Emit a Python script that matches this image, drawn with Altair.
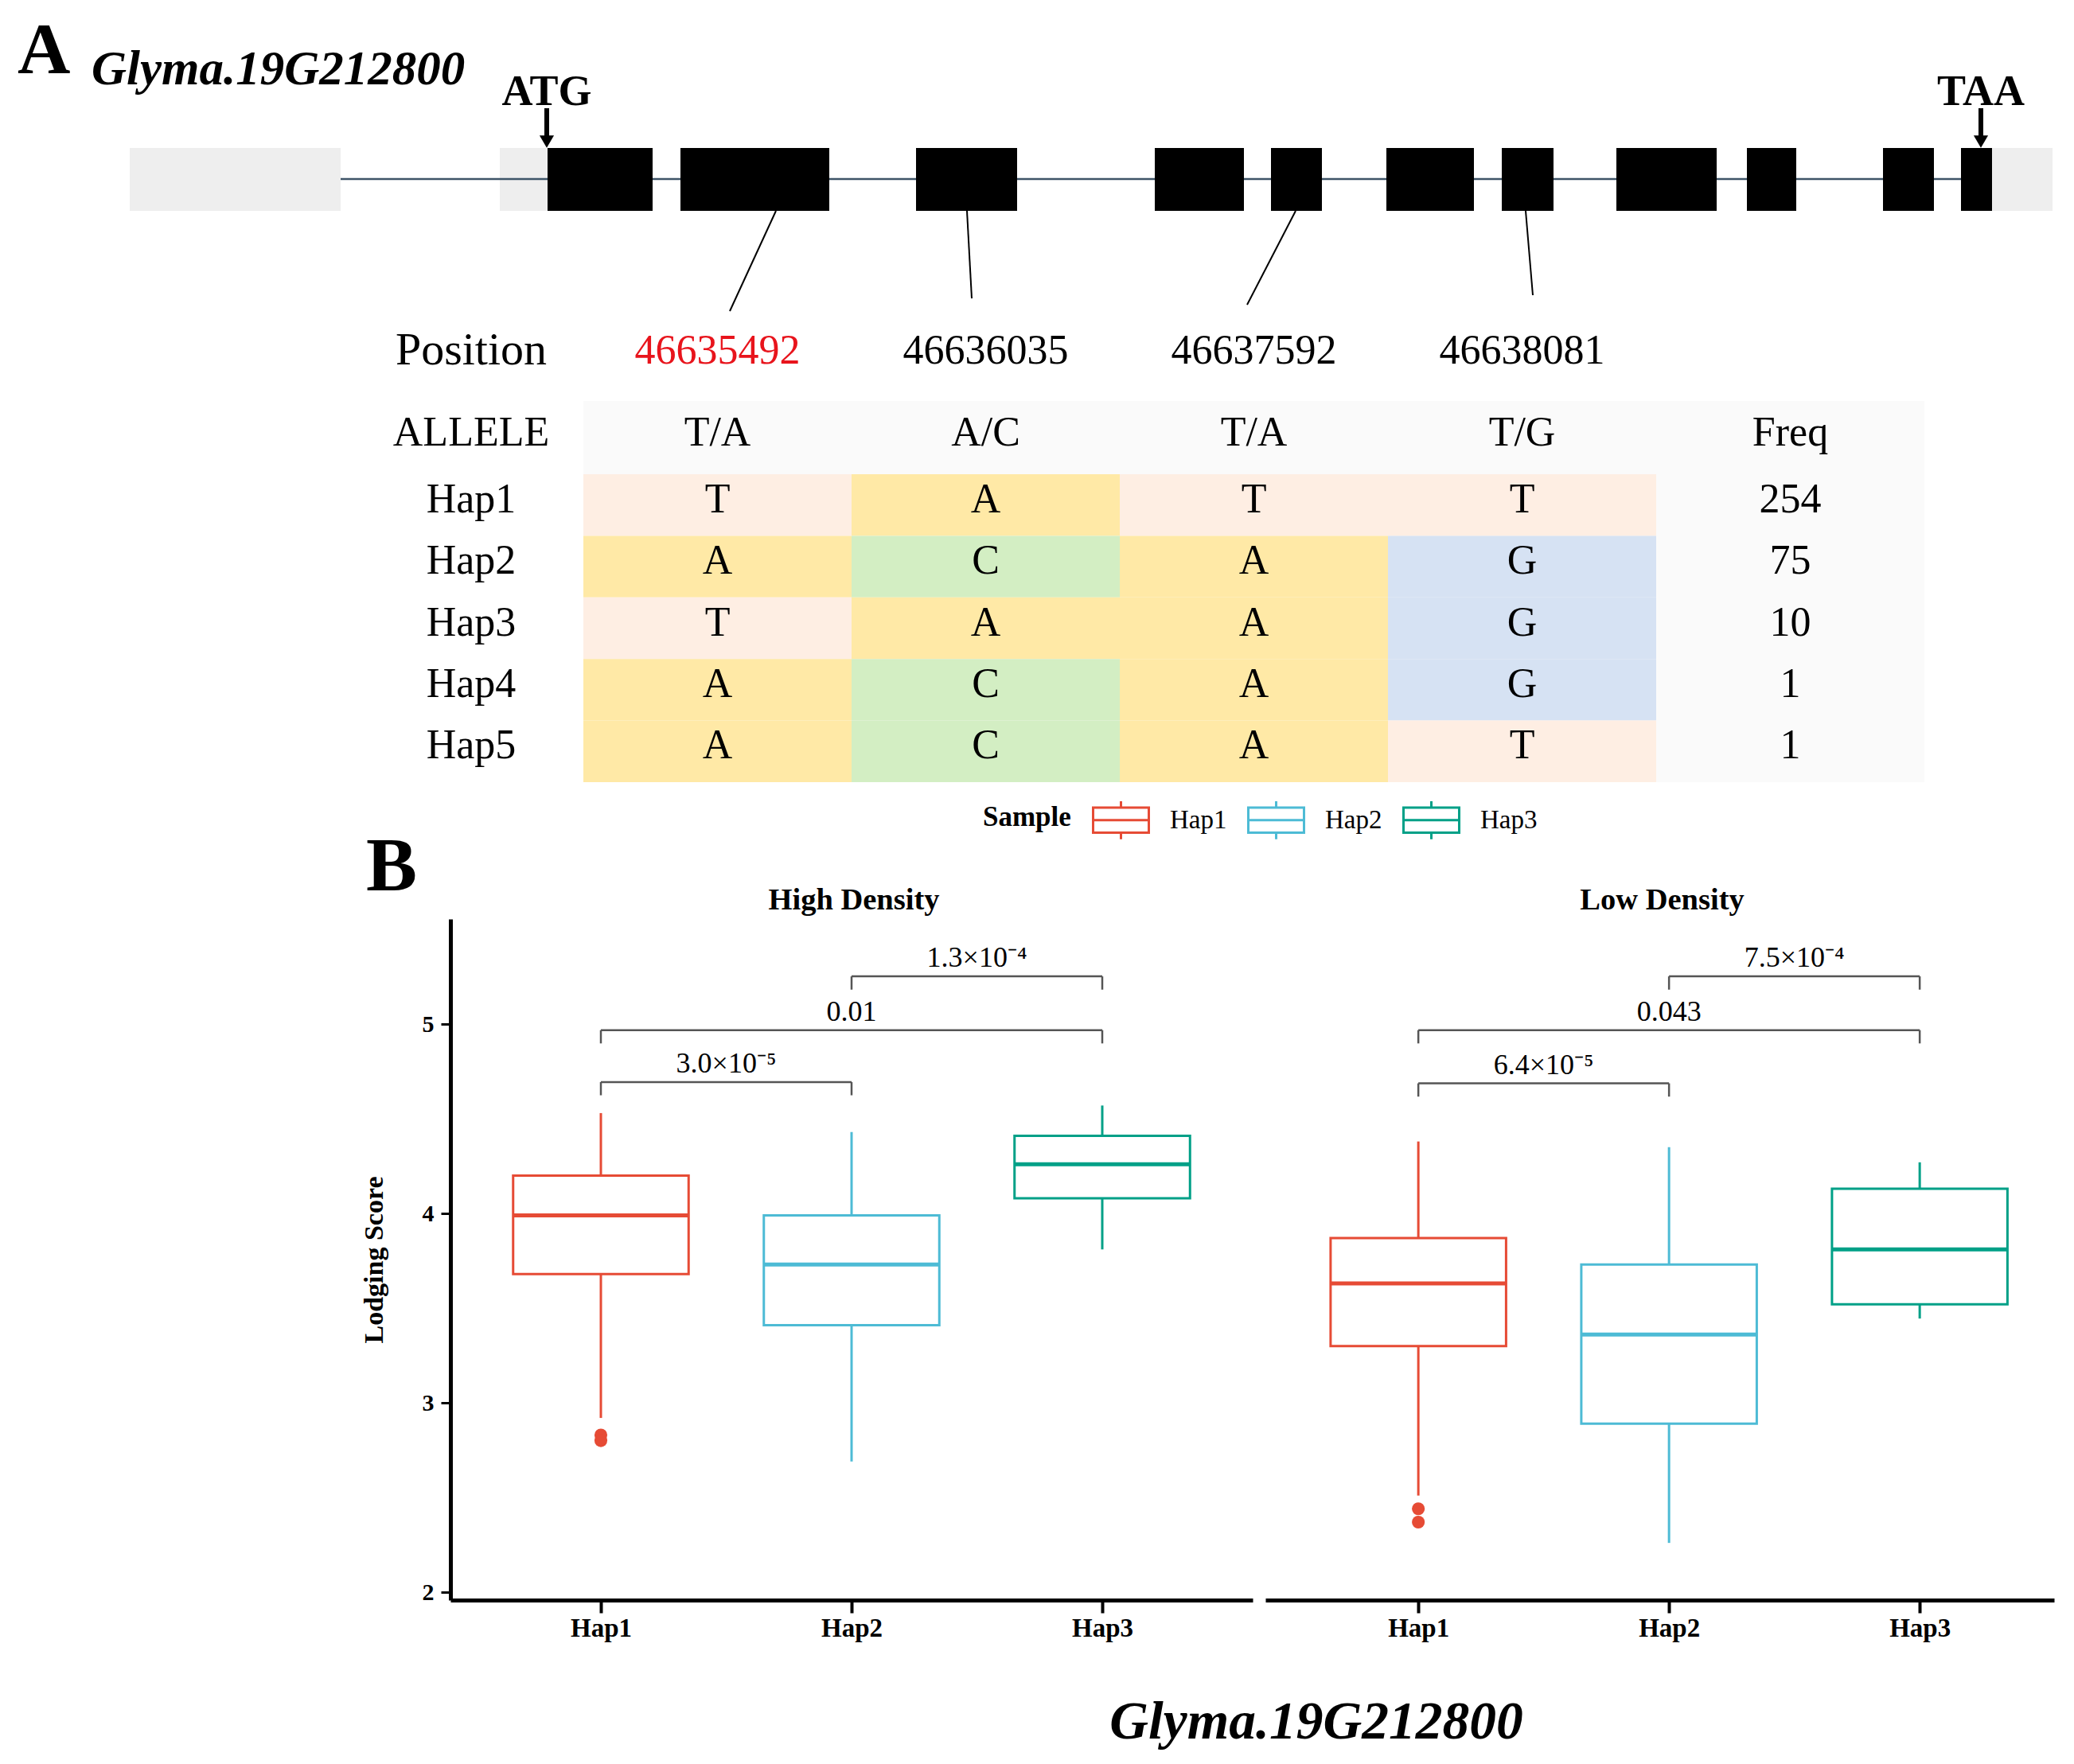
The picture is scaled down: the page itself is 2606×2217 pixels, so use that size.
import json
import altair as alt
import pandas as pd

SERIF = "Liberation Serif"

# ---------------- Panel A data ----------------
GENE_NAME = "Glyma.19G212800"
UTR_START = [155, 620, 2495]
UTR_END = [420, 680, 2571]
EXON_START = [680, 847, 1143, 1443, 1589, 1734, 1879, 2023, 2187, 2358, 2456]
EXON_END = [812, 1034, 1270, 1555, 1653, 1844, 1944, 2149, 2249, 2422, 2495]
CODON_LABEL = ["ATG", "TAA"]
CODON_SITE = [679, 2481]
SNP_SITE = [967, 1207, 1620, 1909]
SNP_POSITION = ["46635492", "46636035", "46637592", "46638081"]
SNP_ALLELE = ["T/A", "A/C", "T/A", "T/G"]
HAP_TABLE = ["Hap1", "Hap2", "Hap3", "Hap4", "Hap5"]
HAP_BASES = [["T", "A", "T", "T"],
             ["A", "C", "A", "G"],
             ["T", "A", "A", "G"],
             ["A", "C", "A", "G"],
             ["A", "C", "A", "T"]]
HAP_FREQ = [254, 75, 10, 1, 1]
BASE_COLOR = {"T": "#FEEEE3", "A": "#FFE9A6", "C": "#D3EEC3", "G": "#D6E2F3"}

# ---------------- Panel B data ----------------
GROUPS = ["Hap1", "Hap2", "Hap3"]
GROUP_COLOR = ["#E64B35", "#4DBBD5", "#00A087"]

HD_LOWER = [2.92, 2.69, 3.81]
HD_Q1 = [3.68, 3.41, 4.08]
HD_MEDIAN = [3.99, 3.73, 4.26]
HD_Q3 = [4.20, 3.99, 4.41]
HD_UPPER = [4.53, 4.43, 4.57]
HD_OUT_GROUP = ["Hap1", "Hap1"]
HD_OUT_VALUE = [2.83, 2.80]
HD_CMP_A = [1, 1, 2]
HD_CMP_B = [2, 3, 3]
HD_CMP_H = [4.694, 4.968, 5.252]
HD_CMP_P = ["3.0×10⁻⁵", "0.01", "1.3×10⁻⁴"]

LD_LOWER = [2.51, 2.26, 3.445]
LD_Q1 = [3.30, 2.89, 3.52]
LD_MEDIAN = [3.63, 3.36, 3.81]
LD_Q3 = [3.87, 3.73, 4.13]
LD_UPPER = [4.38, 4.35, 4.27]
LD_OUT_GROUP = ["Hap1", "Hap1"]
LD_OUT_VALUE = [2.44, 2.37]
LD_CMP_A = [1, 1, 2]
LD_CMP_B = [2, 3, 3]
LD_CMP_H = [4.687, 4.968, 5.252]
LD_CMP_P = ["6.4×10⁻⁵", "0.043", "7.5×10⁻⁴"]

# ---------------- layout ----------------
W_A, H_A = 2583, 990
TRACK_TOP, TRACK_BOTTOM, TRACK_MID = 178, 257, 217
CONNECT_END_X = [909, 1213, 1559, 1918]
CONNECT_END_Y = [383, 367, 375, 363]
LABEL_X = 584
POS_Y = 433
TABLE_X0, COL_W = 725, 337.0
HEADER_TOP, HEADER_H, ROW_H = 496, 92, 77.4
COL_CENTER = [TABLE_X0 + (i + 0.5) * COL_W for i in range(5)]

xA = alt.Scale(domain=[0, W_A], nice=False, zero=False)
yA = alt.Scale(domain=[0, H_A], nice=False, zero=False, reverse=True)


def XA(f):
    return alt.X(f, type="quantitative", scale=xA, axis=None)


def YA(f):
    return alt.Y(f, type="quantitative", scale=yA, axis=None)


utr_df = pd.DataFrame({"x0": UTR_START, "x1": UTR_END, "y0": TRACK_TOP, "y1": TRACK_BOTTOM})
exon_df = pd.DataFrame({"x0": EXON_START, "x1": EXON_END, "y0": TRACK_TOP, "y1": TRACK_BOTTOM})
intron_df = pd.DataFrame({"x0": [UTR_END[0]], "x1": [UTR_START[-1]], "y": [TRACK_MID]})
codon_df = pd.DataFrame({"label": CODON_LABEL, "x": CODON_SITE, "ty": 124, "a0": 128, "a1": 163, "ah": 170})
conn_df = pd.DataFrame({"x0": SNP_SITE, "y0": TRACK_BOTTOM, "x1": CONNECT_END_X, "y1": CONNECT_END_Y})
pos_df = pd.DataFrame({"label": SNP_POSITION, "x": COL_CENTER[:4], "y": POS_Y,
                       "color": ["#E8141C" if i == 0 else "black" for i in range(len(SNP_POSITION))]})
title_df = pd.DataFrame({"t": ["A"], "x": [14], "y": [84]})
gname_df = pd.DataFrame({"t": [GENE_NAME], "x": [107], "y": [98]})
poslab_df = pd.DataFrame({"t": ["Position"], "x": [LABEL_X], "y": [POS_Y]})

n_rows = len(HAP_TABLE)
bg_df = pd.DataFrame({"x0": [TABLE_X0], "x1": [TABLE_X0 + 5 * COL_W],
                      "y0": [HEADER_TOP], "y1": [HEADER_TOP + HEADER_H + n_rows * ROW_H]})
cells = []
texts = []
hy = HEADER_TOP + HEADER_H / 2 - 6
texts.append({"t": "ALLELE", "x": LABEL_X, "y": hy})
for c, a in enumerate(SNP_ALLELE):
    texts.append({"t": a, "x": COL_CENTER[c], "y": hy})
texts.append({"t": "Freq", "x": COL_CENTER[4], "y": hy})
for r, hap in enumerate(HAP_TABLE):
    y0 = HEADER_TOP + HEADER_H + r * ROW_H
    yc = y0 + ROW_H / 2 - 7
    texts.append({"t": hap, "x": LABEL_X, "y": yc})
    for c, b in enumerate(HAP_BASES[r]):
        cells.append({"x0": TABLE_X0 + c * COL_W, "x1": TABLE_X0 + (c + 1) * COL_W,
                      "y0": y0, "y1": y0 + ROW_H, "color": BASE_COLOR[b]})
        texts.append({"t": b, "x": COL_CENTER[c], "y": yc})
    texts.append({"t": str(HAP_FREQ[r]), "x": COL_CENTER[4], "y": yc})
cell_df = pd.DataFrame(cells)
text_df = pd.DataFrame(texts)

layersA = [
    alt.Chart(utr_df).mark_rect(color="#EEEEEE").encode(x=XA("x0"), x2="x1", y=YA("y0"), y2="y1"),
    alt.Chart(intron_df).mark_rule(color="#3E5468", strokeWidth=2.5).encode(x=XA("x0"), x2="x1", y=YA("y")),
    alt.Chart(exon_df).mark_rect(color="black").encode(x=XA("x0"), x2="x1", y=YA("y0"), y2="y1"),
    alt.Chart(codon_df).mark_text(font=SERIF, fontSize=54, fontWeight="bold", baseline="alphabetic",
                                  color="black").encode(x=XA("x"), y=YA("ty"), text="label:N"),
    alt.Chart(codon_df).mark_rule(color="black", strokeWidth=6).encode(x=XA("x"), y=YA("a0"), y2="a1"),
    alt.Chart(codon_df).mark_point(shape="triangle-down", filled=True, color="black", size=330,
                                   opacity=1).encode(x=XA("x"), y=YA("ah")),
    alt.Chart(conn_df).mark_rule(color="black", strokeWidth=2).encode(x=XA("x0"), y=YA("y0"), x2="x1", y2="y1"),
    alt.Chart(poslab_df).mark_text(font=SERIF, fontSize=58, baseline="middle", color="black").encode(
        x=XA("x"), y=YA("y"), text="t:N"),
    alt.Chart(pos_df).mark_text(font=SERIF, fontSize=52, baseline="middle").encode(
        x=XA("x"), y=YA("y"), text="label:N", color=alt.Color("color:N", scale=None)),
    alt.Chart(bg_df).mark_rect(color="#FAFAFA").encode(x=XA("x0"), x2="x1", y=YA("y0"), y2="y1"),
    alt.Chart(cell_df).mark_rect().encode(x=XA("x0"), x2="x1", y=YA("y0"), y2="y1",
                                          fill=alt.Fill("color:N", scale=None)),
    alt.Chart(text_df).mark_text(font=SERIF, fontSize=52, baseline="middle", color="black").encode(
        x=XA("x"), y=YA("y"), text="t:N"),
    alt.Chart(title_df).mark_text(font=SERIF, fontSize=92, fontWeight="bold", align="left",
                                  baseline="alphabetic", color="black").encode(x=XA("x"), y=YA("y"), text="t:N"),
    alt.Chart(gname_df).mark_text(font=SERIF, fontSize=61, fontWeight="bold", fontStyle="italic", align="left",
                                  baseline="alphabetic", color="black").encode(x=XA("x"), y=YA("y"), text="t:N"),
]
panelA = alt.layer(*layersA).properties(width=W_A, height=H_A)

# ---------------- Panel B ----------------
H_B = 856
SPACER_W, GAP = 542, 16
W_L, W_R = 1008, 991
PX_PER_UNIT = W_L / 3.2
Y_MIN, Y_MAX = 1.958, 5.555
BOX_HALF = 0.35
TICK_LEN = 0.07
BOX_GLYPH = "M-1,-0.45H1V0.45H-1Z M-1,0H1 M0,-0.45V-0.68 M0,0.45V0.68"
LABEL_EXPR = json.dumps([""] + GROUPS) + "[datum.value]"


def panel(name, lower, q1, med, q3, upper, out_g, out_v, ca, cb, ch, cp, width, x_min, first):
    n = len(GROUPS)
    df = pd.DataFrame({"group": GROUPS, "idx": list(range(1, n + 1)), "lower": lower, "q1": q1,
                       "median": med, "q3": q3, "upper": upper, "color": GROUP_COLOR})
    df["x0"] = df["idx"] - BOX_HALF
    df["x1"] = df["idx"] + BOX_HALF
    out_df = pd.DataFrame({"group": out_g, "value": out_v})
    out_df["idx"] = [GROUPS.index(g) + 1 for g in out_g]
    out_df["color"] = [GROUP_COLOR[GROUPS.index(g)] for g in out_g]
    cmp_df = pd.DataFrame({"a": ca, "b": cb, "h": ch, "p": cp})
    cmp_df["mid"] = (cmp_df["a"] + cmp_df["b"]) / 2
    cmp_df["hl"] = cmp_df["h"] - TICK_LEN

    x_max = x_min + width / PX_PER_UNIT
    xs = alt.Scale(domain=[x_min, x_max], nice=False, zero=False)
    ys = alt.Scale(domain=[Y_MIN, Y_MAX], nice=False, zero=False)
    xaxis = alt.Axis(values=list(range(1, n + 1)), labelExpr=LABEL_EXPR, title=None, grid=False,
                     domainColor="black", domainWidth=5, tickColor="black", tickWidth=4, tickSize=16,
                     labelFont=SERIF, labelFontSize=33, labelFontWeight="bold", labelColor="black",
                     labelPadding=3)
    if first:
        yaxis = alt.Axis(values=[2, 3, 4, 5], format="d", title="Lodging Score", grid=False,
                         domainColor="black", domainWidth=5, tickColor="black", tickWidth=3, tickSize=12,
                         labelFont=SERIF, labelFontSize=30, labelFontWeight="bold", labelColor="black",
                         labelPadding=9, titleFont=SERIF, titleFontSize=34, titleFontWeight="bold",
                         titleColor="black", titlePadding=43)
    else:
        yaxis = None

    def X(f):
        return alt.X(f, type="quantitative", scale=xs, axis=xaxis)

    def Y(f):
        return alt.Y(f, type="quantitative", scale=ys, axis=yaxis)

    stroke = alt.Stroke("color:N", scale=None)
    if first:
        legend = alt.Legend(orient="none", legendX=669, legendY=-161, direction="horizontal",
                            title="Sample", titleOrient="left", titleFont=SERIF, titleFontSize=35,
                            titleFontWeight="bold", titleColor="black", titlePadding=26,
                            labelFont=SERIF, labelFontSize=33, labelColor="black", labelOffset=25,
                            columnPadding=20, symbolType=BOX_GLYPH, symbolSize=4900,
                            symbolStrokeWidth=3, symbolFillColor="white", symbolOpacity=1)
    else:
        legend = None
    head = pd.DataFrame({"t": [name]})
    layers = [
        alt.Chart(df).mark_rule(strokeWidth=3).encode(x=X("idx"), y=Y("lower"), y2="q1", stroke=stroke),
        alt.Chart(df).mark_rule(strokeWidth=3).encode(x=X("idx"), y=Y("q3"), y2="upper", stroke=stroke),
        alt.Chart(df).mark_rect(filled=False, fill="white", strokeWidth=3).encode(
            x=X("x0"), x2="x1", y=Y("q1"), y2="q3",
            color=alt.Color("group:N", scale=alt.Scale(domain=GROUPS, range=GROUP_COLOR), legend=legend)),
        alt.Chart(df).mark_rule(strokeWidth=5).encode(x=X("x0"), x2="x1", y=Y("median"), stroke=stroke),
        alt.Chart(out_df).mark_point(filled=True, size=260, opacity=1, strokeWidth=0).encode(
            x=X("idx"), y=Y("value"), fill=alt.Fill("color:N", scale=None)),
        alt.Chart(cmp_df).mark_rule(color="#555555", strokeWidth=2.5).encode(x=X("a"), x2="b", y=Y("h")),
        alt.Chart(cmp_df).mark_rule(color="#555555", strokeWidth=2.5).encode(x=X("a"), y=Y("h"), y2="hl"),
        alt.Chart(cmp_df).mark_rule(color="#555555", strokeWidth=2.5).encode(x=X("b"), y=Y("h"), y2="hl"),
        alt.Chart(cmp_df).mark_text(font=SERIF, fontSize=36, baseline="alphabetic", dy=-12,
                                    color="black").encode(x=X("mid"), y=Y("h"), text="p:N"),
        alt.Chart(head).mark_text(font=SERIF, fontSize=38.5, fontWeight="bold", align="center",
                                  baseline="alphabetic", color="black").encode(
            text="t:N", x=alt.value(width / 2 + 3), y=alt.value(-12)),
    ]
    if not first:
        cap = pd.DataFrame({"t": [GENE_NAME]})
        layers.append(alt.Chart(cap).mark_text(font=SERIF, fontSize=67.5, fontWeight="bold", fontStyle="italic",
                                               align="center", baseline="alphabetic", color="black").encode(
            text="t:N", x=alt.value(64), y=alt.value(1030)))
    return alt.layer(*layers).properties(width=width, height=H_B)


left = panel("High Density", HD_LOWER, HD_Q1, HD_MEDIAN, HD_Q3, HD_UPPER, HD_OUT_GROUP, HD_OUT_VALUE,
             HD_CMP_A, HD_CMP_B, HD_CMP_H, HD_CMP_P, W_L, 0.4, True)
right = panel("Low Density", LD_LOWER, LD_Q1, LD_MEDIAN, LD_Q3, LD_UPPER, LD_OUT_GROUP, LD_OUT_VALUE,
              LD_CMP_A, LD_CMP_B, LD_CMP_H, LD_CMP_P, W_R, 0.39, False)

spacer = alt.Chart(pd.DataFrame({"t": ["B"]})).mark_text(
    font=SERIF, fontSize=96, fontWeight="bold", align="left", baseline="alphabetic", color="black").encode(
    text="t:N", x=alt.value(452), y=alt.value(-36)).properties(width=SPACER_W, height=H_B)

panelB = alt.hconcat(spacer, left, right, spacing=GAP, bounds="flush").resolve_scale(
    color="independent", x="independent", y="independent")

chart = alt.vconcat(panelA, panelB, spacing=157, bounds="flush", center=False).resolve_scale(
    color="independent").properties(padding=0, background="white").configure_view(strokeWidth=0)

chart.save("out.html", embed_options={"renderer": "svg", "actions": False})
